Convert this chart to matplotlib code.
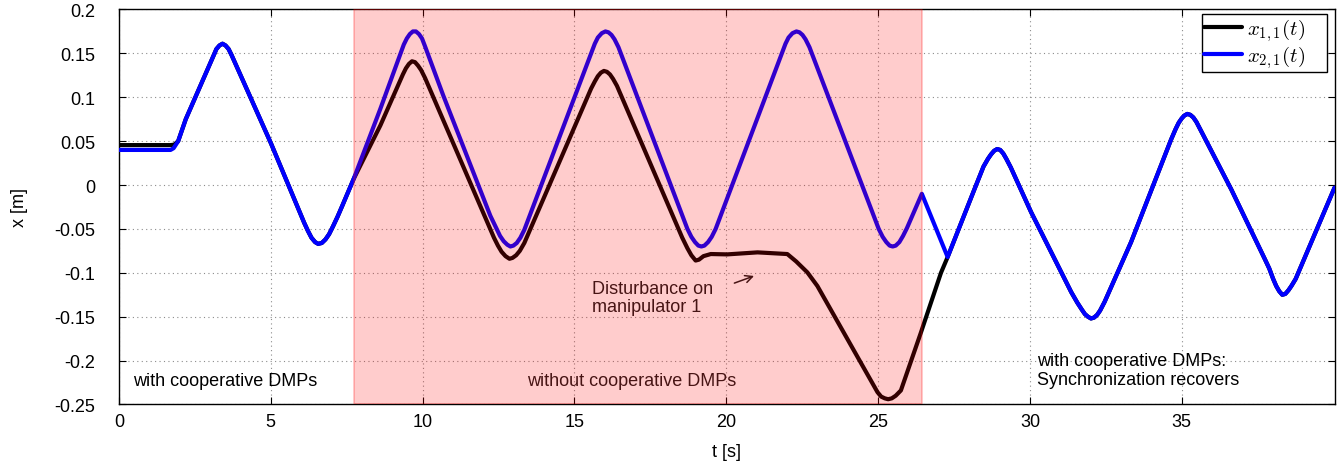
import matplotlib
matplotlib.use("Agg")
import matplotlib.pyplot as plt

plt.rcParams.update({
    "font.family": ["Liberation Sans", "DejaVu Sans"],
    "font.size": 13,
    "mathtext.fontset": "cm",
})

# x_{2,1}(t): blue
t_blue = [0.00, 1.70, 1.80, 1.95, 2.20, 3.11, 3.21, 3.31, 3.41, 3.51, 3.61, 3.71, 5.00,
          6.10, 6.22, 6.34, 6.46, 6.56, 6.68, 6.80, 6.92, 7.05, 7.20, 7.35, 7.73, 8.61,
          9.38, 9.48, 9.58, 9.68, 9.78, 9.88, 9.98, 10.08, 10.68, 12.23,
          12.55, 12.67, 12.79, 12.89, 12.99, 13.10, 13.22, 13.35,
          15.67, 15.77, 15.90, 16.02, 16.12, 16.22, 16.32, 16.45,
          18.72, 18.85, 18.97, 19.08, 19.18, 19.28, 19.40, 19.52, 19.65,
          21.95, 22.05, 22.18, 22.31, 22.41, 22.51, 22.61, 22.74,
          25.02, 25.15, 25.27, 25.38, 25.48, 25.58, 25.70, 25.82, 25.95, 26.44, 27.29, 28.17,
          28.47, 28.62, 28.72, 28.82, 28.92, 29.02, 29.12, 29.22, 29.37, 30.04, 31.36,
          31.56, 31.71, 31.81, 31.91, 32.01, 32.11, 32.21, 32.31, 32.46, 33.33,
          34.65, 34.80, 34.90, 35.00, 35.08, 35.18, 35.28, 35.38, 35.48, 35.63, 36.63, 37.73,
          37.88, 38.01, 38.11, 38.21, 38.31, 38.41, 38.51, 38.61, 38.75, 40.03]
x_blue = [0.040, 0.040, 0.042, 0.050, 0.075, 0.147, 0.155, 0.159, 0.161, 0.159, 0.155, 0.148, 0.048,
          -0.043, -0.052, -0.060, -0.065, -0.067, -0.066, -0.062, -0.056, -0.047, -0.036, -0.024,
          0.007, 0.087,
          0.160, 0.167, 0.172, 0.175, 0.175, 0.172, 0.167, 0.158, 0.102, -0.035,
          -0.058, -0.064, -0.068, -0.070, -0.069, -0.066, -0.060, -0.051,
          0.161, 0.168, 0.173, 0.175, 0.174, 0.171, 0.166, 0.157,
          -0.050, -0.059, -0.065, -0.069, -0.070, -0.069, -0.065, -0.059, -0.050,
          0.161, 0.168, 0.173, 0.175, 0.174, 0.171, 0.166, 0.157,
          -0.050, -0.059, -0.065, -0.069, -0.070, -0.069, -0.065, -0.058, -0.049, -0.010, -0.082,
          -0.005,
          0.021, 0.030, 0.035, 0.039, 0.041, 0.040, 0.036, 0.030, 0.020, -0.031, -0.122,
          -0.134, -0.142, -0.147, -0.150, -0.152, -0.151, -0.148, -0.143, -0.133, -0.065,
          0.052, 0.064, 0.071, 0.076, 0.079, 0.081, 0.080, 0.077, 0.072, 0.062, -0.005, -0.084,
          -0.095, -0.107, -0.115, -0.121, -0.125, -0.124, -0.120, -0.115, -0.107, -0.003]

# x_{1,1}(t): black, from the start of the disturbance window until it rejoins blue
t_black_free = [7.73, 8.61, 9.35, 9.45, 9.55, 9.65, 9.75, 9.85, 9.95, 10.08,
                12.35, 12.48, 12.60, 12.73, 12.86, 12.96, 13.08, 13.20, 13.35,
                15.55, 15.67, 15.77, 15.87, 15.97, 16.07, 16.17, 16.27, 16.40,
                18.55, 18.72, 18.85, 18.99, 19.10, 19.25, 19.49, 20.03, 21.03, 22.01, 22.30,
                22.67, 23.00, 24.98, 25.10, 25.22, 25.33, 25.45, 25.58, 25.75, 26.41, 27.07, 27.29]
x_black_free = [0.007, 0.068, 0.126, 0.133, 0.138, 0.141, 0.140, 0.136, 0.131, 0.122,
                -0.060, -0.069, -0.076, -0.081, -0.084, -0.083, -0.080, -0.075, -0.066,
                0.110, 0.118, 0.124, 0.128, 0.130, 0.129, 0.126, 0.121, 0.113,
                -0.060, -0.072, -0.080, -0.086, -0.085, -0.081, -0.0786, -0.079, -0.0767,
                -0.0786, -0.087, -0.0995, -0.115, -0.236, -0.241, -0.243, -0.244, -0.243,
                -0.240, -0.234, -0.168, -0.100, -0.082]
x_black_start = 0.0455   # flat offset before the motion starts (t < 1.7 s)

# outside the window x_{1,1} follows x_{2,1}
t_black = [0.00, 1.70, 1.82] + [t for t in t_blue if 1.82 < t < 7.73] + t_black_free \
    + [t for t in t_blue if t > 27.29]
x_black = [x_black_start, x_black_start, 0.046] \
    + [x for t, x in zip(t_blue, x_blue) if 1.82 < t < 7.73] + x_black_free \
    + [x for t, x in zip(t_blue, x_blue) if t > 27.29]

x_ticks = [0, 5, 10, 15, 20, 25, 30, 35]
y_ticks = [-0.25, -0.2, -0.15, -0.1, -0.05, 0, 0.05, 0.1, 0.15, 0.2]
y_ticklabels = ["-0.25", "-0.2", "-0.15", "-0.1", "-0.05", "0", "0.05", "0.1", "0.15", "0.2"]
span = (7.73, 26.44)

fig = plt.figure(figsize=(13.38, 4.64), dpi=100)
ax = fig.add_axes([0.0889, 0.1261, 0.9085, 0.8513])

# trailing spaces mimic the wide right margin of the original legend box
ax.plot(t_black, x_black, color="black", lw=3, solid_joinstyle="round", solid_capstyle="round",
        label="$x_{1,1}(t)$    ", zorder=4)
ax.plot(t_blue, x_blue, color="blue", lw=3, solid_joinstyle="round", solid_capstyle="round",
        label="$x_{2,1}(t)$    ", zorder=5)
# shading sits on top of everything inside it, like the original
ax.axvspan(*span, fc=(1, 0, 0, 0.2), ec=(1, 0, 0, 0.25), lw=1.2, zorder=10)

ax.set_xlim(0, 40.03)
ax.set_ylim(-0.25, 0.2)
ax.set_xticks(x_ticks)
ax.set_yticks(y_ticks)
ax.set_yticklabels(y_ticklabels)
ax.tick_params(direction="in", top=True, right=True, length=5, width=0.8)
ax.tick_params(axis="y", pad=17)
ax.tick_params(axis="x", pad=6)
ax.grid(True, color="0.55", lw=0.8, ls=(0, (1, 3)))
for s in ax.spines.values():
    s.set_linewidth(1.0)

ax.set_xlabel("t [s]", va="center")
ax.xaxis.set_label_coords(0.5, -0.118)
ax.set_ylabel("x [m]", va="center")
ax.yaxis.set_label_coords(-0.082, 0.5)

ax.text(0.46, -0.223, "with cooperative DMPs", ha="left", va="center")
ax.text(16.9, -0.223, "without cooperative DMPs", ha="center", va="center", color="0.1")
ax.text(30.24, -0.2107, "with cooperative DMPs:\nSynchronization recovers", ha="left", va="center",
        linespacing=1.1)
ax.text(15.57, -0.128, "Disturbance on\nmanipulator 1", ha="left", va="center", color="0.1",
        linespacing=1.1)
ax.annotate("", xy=(21.0, -0.1025), xytext=(20.18, -0.1128),
            arrowprops=dict(arrowstyle="->", color="0.1", lw=1.1))

leg = ax.legend(loc="upper right", bbox_to_anchor=(1 - 8 / 1215, 1 - 4.5 / 395), borderaxespad=0,
                fancybox=False, framealpha=1, edgecolor="black", handlelength=1.8,
                handletextpad=0.25, labelspacing=0.0, borderpad=0.1, fontsize=15)
leg.get_frame().set_linewidth(1.0)
leg.set_zorder(20)

fig.savefig("out.png", dpi=100)
